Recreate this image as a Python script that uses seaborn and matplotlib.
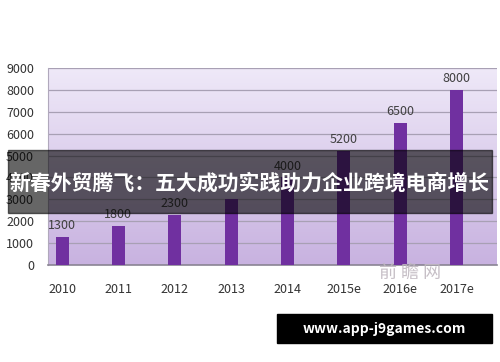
import numpy as np
import pandas as pd
import seaborn as sns
import matplotlib.pyplot as plt
from matplotlib.patches import Rectangle
from matplotlib.colors import LinearSegmentedColormap

# dados do gráfico
anos = ["2010", "2011", "2012", "2013", "2014", "2015e", "2016e", "2017e"]
valores = [1300, 1800, 2300, 3000, 4000, 5200, 6500, 8000]
rotulos = ["1300", "1800", "2300", "", "4000", "5200", "6500", "8000"]
yticks = [0, 1000, 2000, 3000, 4000, 5000, 6000, 7000, 8000, 9000]

titulo = "新春外贸腾飞：五大成功实践助力企业跨境电商增长"
site = "www.app-j9games.com"
marca = "前 瞻 网"

df = pd.DataFrame({"ano": anos, "valor": valores})

sns.set_style("white")
plt.rcParams["font.family"] = ["Noto Sans CJK SC", "DejaVu Sans"]

fig = plt.figure(figsize=(5, 3.62), dpi=100)
ax = fig.add_axes([0.096, 0.268, 0.898, 0.544])

# fundo em degradê lilás
cmap = LinearSegmentedColormap.from_list("lilas", ["#efe9f8", "#c8b2e0"])
grad = np.linspace(0, 1, 256).reshape(-1, 1)
ax.imshow(grad, aspect="auto", cmap=cmap, extent=(-0.25, 7.72, 0, 9000),
          origin="upper", zorder=0)

sns.barplot(data=df, x="ano", y="valor", color="#7030a0", saturation=1,
            width=0.23, linewidth=0, ax=ax, zorder=3)

for i, (v, r) in enumerate(zip(valores, rotulos)):
    if r:
        ax.text(i, v + 220, r, ha="center", va="bottom", fontsize=9,
                color="#404040", zorder=4)

ax.set_xlim(-0.25, 7.72)
ax.set_ylim(0, 9000)
ax.set_yticks(yticks)
ax.yaxis.grid(True, color="#a8a0b4", linewidth=0.9)
for l in ax.get_ygridlines():
    l.set_zorder(1)
ax.set_xlabel("")
ax.set_ylabel("")
ax.tick_params(axis="both", length=0, labelsize=9, colors="#333333")
ax.tick_params(axis="x", pad=13)
ax.tick_params(axis="y", pad=10)
for s in ["top", "right"]:
    ax.spines[s].set_visible(False)
ax.spines["left"].set_color("#b0a8bc")
ax.spines["bottom"].set_color("#8a8494")
ax.spines["bottom"].set_linewidth(1.2)

# marca d'água
fig.text(0.82, 0.245, marca, fontsize=13, color="#c0b8c0", ha="center",
         va="center", alpha=0.9)

# faixa escura com o título
fig.patches.append(Rectangle((8 / 500, 1 - 213 / 362), 484 / 500, 63 / 362,
                             transform=fig.transFigure, color="black",
                             alpha=0.6, zorder=5))
fig.text(0.5, 1 - 183 / 362, titulo, fontsize=15, fontweight="bold",
         color="white", ha="center", va="center", zorder=6)

# caixa preta do site
fig.patches.append(Rectangle((277 / 500, 1 - 343 / 362), 215 / 500, 29 / 362,
                             transform=fig.transFigure, color="black", zorder=5))
fig.text(384.5 / 500, 1 - 328.5 / 362, site, fontsize=10, fontweight="bold",
         color="white", ha="center", va="center", zorder=6)

fig.savefig("out.png", dpi=100)
